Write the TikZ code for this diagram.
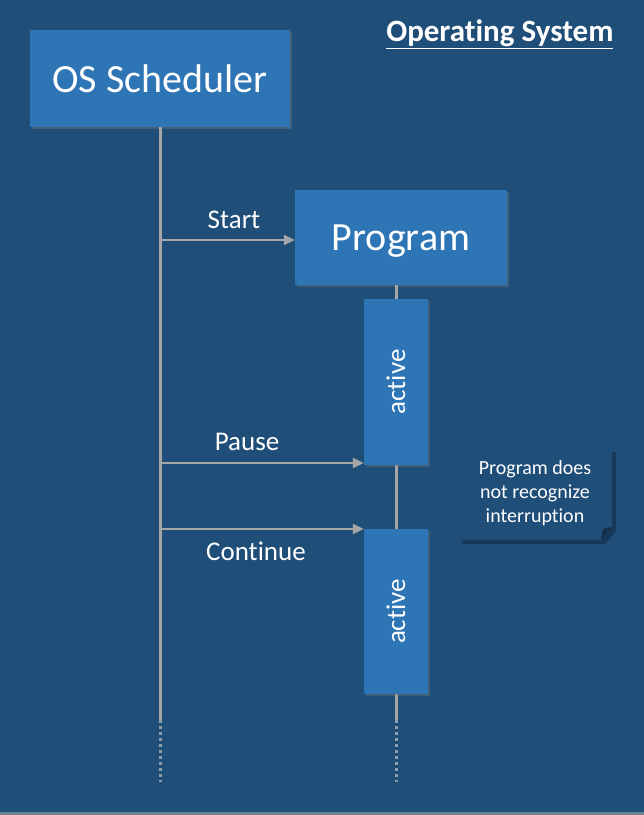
\documentclass[tikz,border=0pt]{standalone}
\usepackage{fontspec}
\setmainfont{Carlito}[RawFeature={-liga;-clig}]
\usetikzlibrary{arrows.meta,shadows}
\definecolor{bg}{HTML}{1F4E79}
\definecolor{boxc}{HTML}{2E75B6}
\definecolor{linec}{HTML}{A6A6A6}
\begin{document}
\begin{tikzpicture}[x=1pt,y=-1pt,
  box/.style={fill=boxc,draw=none,inner sep=0,drop shadow={shadow xshift=2pt,shadow yshift=-2pt,opacity=0.35}},
  life/.style={draw=linec,line width=3pt},
  dots/.style={draw=linec!80!boxc,line width=3pt,dash pattern=on 3pt off 3pt},
  msg/.style={draw=linec,line width=2.5pt,-{Triangle[length=11pt,width=10pt]}},
  lbl/.style={text=white,font=\fontsize{27}{27}\selectfont}]
\fill[bg] (0,0) rectangle (644,815);
\fill[linec!60!bg] (0,812) rectangle (644,815);
\node[text=white,font=\bfseries\fontsize{31}{31}\selectfont,anchor=east] (title) at (617,34) {\underline{Operating System}};
\node[box,minimum width=260pt,minimum height=97pt,text=white,font=\fontsize{40}{40}\selectfont] (os) at (160,78.5) {OS Scheduler};
\node[box,minimum width=212pt,minimum height=95pt] (prog) at (401,237.5) {};
\node[text=white,font=\fontsize{40}{40}\selectfont] at (401,241) {Program};
\coordinate (l1e) at (160,720);
\coordinate (l1d) at (160,782);
\coordinate (l2e) at (396,720);
\coordinate (l2d) at (396,782);
\draw[life] (os.south) -- (l1e);
\draw[dots] (l1e) -- (l1d);
\draw[life] (396,285) -- (l2e);
\draw[dots] (l2e) -- (l2d);
\node[box,minimum width=64pt,minimum height=166pt] (a1) at (396,382) {};
\node[box,minimum width=64pt,minimum height=165pt] (a2) at (396,611.5) {};
\node[lbl,rotate=90] at (a1) {active};
\node[lbl,rotate=90] at (a2) {active};
\coordinate (s1) at (160,240);
\coordinate (s2) at (160,463);
\coordinate (s3) at (160,529);
\draw[msg] (s1) -- (prog.west|-s1);
\draw[msg] (s2) -- (a1.west|-s2);
\draw[msg] (s3) -- (a2.west|-s3);
\node[lbl] at (234,220) {Start};
\node[lbl] at (247,442) {Pause};
\node[lbl] at (256,551) {Continue};
\fill[black,opacity=0.25] (462,452) -- (616,452) -- (616,531) -- (605,544) -- (462,544) -- cycle;
\fill[bg] (458,448) -- (612,448) -- (612,527) -- (601,540) -- (458,540) -- cycle;
\fill[black!40!bg] (612,527) -- (603,529) -- (601,540) -- cycle;
\node[text=white,align=center,font=\fontsize{20}{24}\selectfont] (note) at (535,493) {Program does\\not recognize\\interruption};
\end{tikzpicture}
\end{document}
